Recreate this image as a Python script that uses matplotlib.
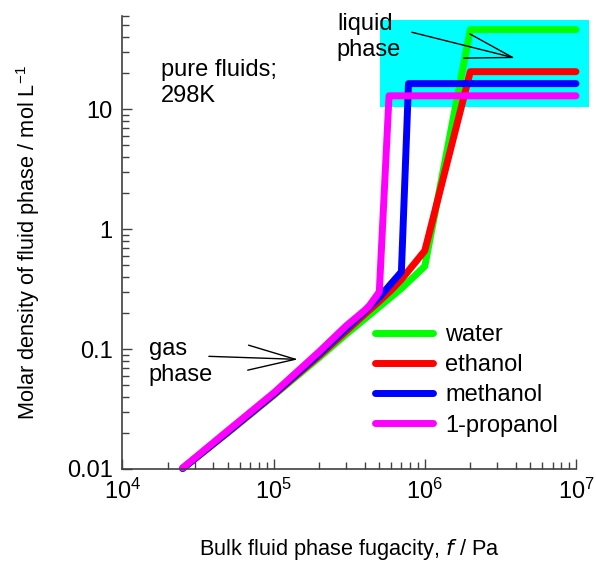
import numpy as np
import matplotlib
matplotlib.use("Agg")
import matplotlib.pyplot as plt
from matplotlib.patches import Rectangle
from matplotlib.ticker import LogLocator, NullFormatter

plt.rcParams['font.family'] = ['Liberation Sans', 'DejaVu Sans']
plt.rcParams['mathtext.default'] = 'regular'

# fugacity (Pa) and molar density (mol/L) of the pure fluids at 298 K
f_water = [2.5e4, 5e4, 1e5, 2e5, 3e5, 4e5, 5e5, 7e5, 1e6, 2e6, 1e7]
rho_water = [0.0101, 0.0202, 0.041, 0.085, 0.132, 0.178, 0.225, 0.32, 0.49, 46, 46]

f_ethanol = [2.5e4, 5e4, 1e5, 2e5, 3e5, 4e5, 5e5, 6e5, 7e5, 1e6, 2e6, 1e7]
rho_ethanol = [0.0101, 0.0203, 0.0415, 0.088, 0.14, 0.195, 0.25, 0.31, 0.38, 0.66, 20.5, 20.5]

f_methanol = [2.5e4, 5e4, 1e5, 2e5, 3e5, 4e5, 5e5, 7e5, 7.8e5, 1e7]
rho_methanol = [0.0101, 0.0205, 0.042, 0.091, 0.147, 0.205, 0.27, 0.44, 16.3, 16.3]

f_propanol = [2.5e4, 5e4, 1e5, 2e5, 3e5, 4e5, 4.3e5, 5e5, 5.8e5, 1e7]
rho_propanol = [0.0102, 0.021, 0.043, 0.095, 0.155, 0.21, 0.23, 0.30, 12.9, 12.9]

names = ['water', 'ethanol', 'methanol', '1-propanol']
colors = ['#00ff00', '#ff0000', '#0000ff', '#ff00ff']
series = [(f_water, rho_water), (f_ethanol, rho_ethanol),
          (f_methanol, rho_methanol), (f_propanol, rho_propanol)]

fs = 17

fig = plt.figure(figsize=(5.96, 5.61), dpi=100)
ax = fig.add_axes([0.2055, 0.164, 0.7609, 0.808])

# liquid region highlight
ax.add_patch(Rectangle((5.05e5, 10.4), 1.22e7 - 5.05e5, 55 - 10.4,
                       facecolor='#00ffff', edgecolor='none', zorder=0, clip_on=False))

for (f, rho), name, c in zip(series, names, colors):
    ax.plot(f, rho, color=c, lw=5, label=name, solid_capstyle='round',
            solid_joinstyle='round', clip_on=False, zorder=2)

ax.set_xscale('log')
ax.set_yscale('log')
ax.set_xlim(1e4, 1e7)
ax.set_ylim(0.01, 60)

ax.set_xticks([1e4, 1e5, 1e6, 1e7])
ax.set_xticklabels(['10$^4$', '10$^5$', '10$^6$', '10$^7$'])
ax.set_yticks([0.01, 0.1, 1, 10])
ax.set_yticklabels(['0.01', '0.1', '1', '10'])
ax.xaxis.set_minor_locator(LogLocator(base=10, subs=np.arange(2, 10), numticks=20))
ax.yaxis.set_minor_locator(LogLocator(base=10, subs=np.arange(2, 10), numticks=20))
ax.xaxis.set_minor_formatter(NullFormatter())
ax.yaxis.set_minor_formatter(NullFormatter())

for side in ['top', 'right']:
    ax.spines[side].set_visible(False)
for side in ['left', 'bottom']:
    ax.spines[side].set_color('#404040')
    ax.spines[side].set_linewidth(1.2)
ax.tick_params(which='major', direction='in', length=7, width=1, color='#404040',
               labelsize=fs, pad=7)
ax.tick_params(which='minor', direction='in', length=5, width=1, color='#404040')

ax.set_xlabel('Bulk fluid phase fugacity, $\\it{f}$ / Pa', fontsize=15.7, labelpad=24)
ax.set_ylabel('Molar density of fluid phase / mol L$^{-1}$', fontsize=15.7, labelpad=18)

ax.text(1.8e4, 26, 'pure fluids;\n298K', fontsize=fs, va='top', ha='left', linespacing=1.2)
ax.text(2.62e5, 63, 'liquid\nphase', fontsize=fs, va='top', ha='left', linespacing=1.2)
ax.text(1.49e4, 0.123, 'gas\nphase', fontsize=fs, va='top', ha='left', linespacing=1.2)

arrow = dict(arrowstyle='->,head_length=3.4,head_width=0.9', color='black', lw=1,
             shrinkA=0, shrinkB=0, mutation_scale=10)
ax.annotate('', xy=(3.96e6, 26.6), xytext=(8.2e5, 43.7), arrowprops=arrow,
            annotation_clip=False, zorder=3)
ax.annotate('', xy=(1.45e5, 0.082), xytext=(3.73e4, 0.0869), arrowprops=arrow,
            annotation_clip=False, zorder=3)

leg = ax.legend(loc='upper left', bbox_to_anchor=(0.557, 0.32), frameon=False,
                fontsize=fs, handlelength=2.46, handletextpad=0.5, labelspacing=0.35,
                borderpad=0, borderaxespad=0)

fig.savefig('out.png', dpi=100)
